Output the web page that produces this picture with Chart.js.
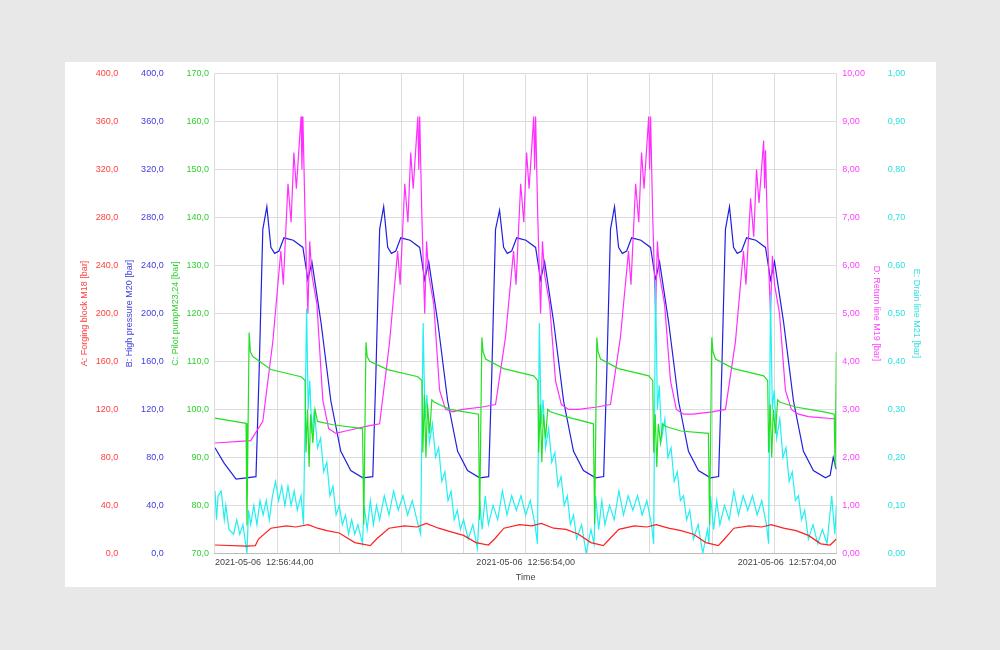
<!DOCTYPE html>
<html>
<head>
<meta charset="utf-8">
<script src="https://cdn.jsdelivr.net/npm/chart.js@4"></script>
<style>
  body { margin: 0; background: #e8e8e8; width: 1000px; height: 650px; overflow: hidden; }
  #panel { position: absolute; left: 65px; top: 62px; width: 871px; height: 525px; background: #fff; }
</style>
</head>
<body>
<div id="panel"><canvas id="trend" width="871" height="525"></canvas></div>
<script>
// time in seconds from 2021-05-06 12:56:44.00
const timeLabels = ['2021-05-06  12:56:44,00', '2021-05-06  12:56:54,00', '2021-05-06  12:57:04,00'];

const forgingBlockA = [
  [0,7],[1.0,6],[1.3,6.5],[1.4,12],[1.8,21],[2.3,23],[2.6,22],[3.0,24],[3.3,21],[3.6,19],[4.0,17],[4.5,9],[5.0,6.5],
  [5.2,12],[5.6,21],[6.1,23],[6.5,22],[6.8,25],[7.2,21],[7.6,18],[8.0,15],[8.4,9],[8.8,7],
  [9.0,12],[9.3,21],[9.8,24],[10.2,23],[10.5,25],[10.9,21],[11.3,20],[11.7,16],[12.1,9],[12.5,6.5],
  [12.7,12],[13.0,20],[13.5,23],[13.9,22],[14.2,24],[14.6,21],[15.0,19],[15.4,16],[15.8,9],[16.2,6.5],
  [16.4,12],[16.7,21],[17.2,23],[17.6,22],[17.9,24],[18.3,21],[18.7,19],[19.1,15],[19.5,8],[19.8,7],[20,12]
];

const highPressureB = [
  [0,88],[0.3,75],[0.68,62],[1.32,64],[1.42,150],[1.54,270],[1.67,289],[1.8,255],[1.92,250],[2.06,252],[2.22,263],[2.52,261],[2.83,255],[2.99,228],[3.12,243],[3.41,193],[3.73,127],[4.05,85],[4.37,69],[4.76,63],
  [5.08,64],[5.18,150],[5.30,270],[5.43,289],[5.56,255],[5.68,250],[5.82,252],[5.98,263],[6.28,261],[6.59,255],[6.75,228],[6.88,243],[7.17,193],[7.49,127],[7.81,85],[8.13,69],[8.52,63],
  [8.81,64],[8.91,150],[9.03,270],[9.16,286],[9.29,255],[9.41,250],[9.55,252],[9.71,263],[10.01,261],[10.32,255],[10.48,228],[10.61,243],[10.90,193],[11.22,127],[11.54,85],[11.86,69],[12.25,63],
  [12.51,64],[12.61,150],[12.73,270],[12.86,289],[12.99,255],[13.11,250],[13.25,252],[13.41,263],[13.71,261],[14.02,255],[14.18,228],[14.31,243],[14.60,193],[14.92,127],[15.24,85],[15.56,69],[15.95,63],
  [16.21,64],[16.31,150],[16.43,270],[16.56,289],[16.69,255],[16.81,250],[16.95,252],[17.11,263],[17.41,261],[17.72,255],[17.88,228],[18.01,243],[18.30,193],[18.62,127],[18.94,85],[19.26,69],[19.65,63],[19.8,65],[19.9,80],[20,70]
];

const pilotPumpC = [
  [0,98.2],[1.0,97.1],[1.03,75.8],[1.1,116],[1.14,112],[1.22,111],[1.8,108.3],[2.77,106.8],[2.9,106],[2.93,91],[2.98,100],[3.03,88],[3.08,99],[3.15,93],[3.22,100],[3.3,97.5],[3.8,96.8],[4.75,96],[4.79,76],
  [4.86,114],[4.9,111],[4.98,110],[5.56,108.3],[6.53,106.8],[6.66,106],[6.69,91],[6.74,103],[6.79,90],[6.84,101],[6.91,95],[6.98,102],[7.06,101.5],[7.56,100],[8.48,99],[8.52,77],
  [8.59,115],[8.63,112],[8.71,110.5],[9.29,108.5],[10.26,107],[10.39,106],[10.42,91],[10.47,101],[10.52,89],[10.57,99],[10.64,94],[10.71,100],[10.79,99.5],[11.29,98.5],[12.18,97],[12.22,76],
  [12.29,115],[12.33,112],[12.41,110.5],[12.99,108.5],[13.96,107],[14.09,106],[14.12,91],[14.17,99],[14.22,88],[14.27,97],[14.34,93],[14.41,97],[14.49,96.5],[14.99,95.5],[15.88,95],[15.92,76],
  [15.99,115],[16.03,112],[16.11,110.5],[16.69,108.5],[17.66,107],[17.79,106],[17.82,91],[17.87,101],[17.92,90],[17.97,100],[18.04,95],[18.11,102],[18.19,101.5],[18.69,100.5],[19.6,99.5],[19.93,99],[19.96,88],[20,112]
];

const returnLineD = [
  [0,2.3],[1.15,2.35],[1.54,2.75],[1.86,4.4],[2.12,6.3],[2.2,5.6],[2.35,7.7],[2.45,6.9],[2.54,8.35],[2.62,7.6],[2.77,9.1],[2.8,8.0],[2.83,9.1],[2.9,7.0],[2.99,5.0],[3.05,6.5],[3.12,5.8],[3.28,5.2],[3.47,3.2],[3.66,2.6],[3.89,2.5],[4.21,2.55],[4.9,2.65],
  [5.3,2.7],[5.62,4.4],[5.88,6.3],[5.96,5.6],[6.11,7.7],[6.21,6.9],[6.3,8.35],[6.38,7.6],[6.53,9.1],[6.56,8.0],[6.59,9.1],[6.66,7.0],[6.75,5.0],[6.81,6.5],[6.88,5.8],[7.04,5.2],[7.23,3.4],[7.42,3.0],[7.65,2.95],[7.97,3.0],[8.6,3.05],
  [9.03,3.1],[9.35,4.5],[9.61,6.3],[9.69,5.6],[9.84,7.7],[9.94,6.9],[10.03,8.35],[10.11,7.6],[10.26,9.1],[10.29,8.0],[10.32,9.1],[10.39,7.0],[10.48,5.0],[10.54,6.5],[10.61,5.8],[10.77,5.2],[10.96,3.6],[11.15,3.1],[11.38,3.0],[11.7,3.0],[12.3,3.05],
  [12.73,3.1],[13.05,4.5],[13.31,6.3],[13.39,5.6],[13.54,7.7],[13.64,6.9],[13.73,8.35],[13.81,7.6],[13.96,9.1],[13.99,8.0],[14.02,9.1],[14.09,7.0],[14.18,5.0],[14.24,6.5],[14.31,5.8],[14.47,5.2],[14.66,3.6],[14.85,3.0],[15.08,2.9],[15.4,2.9],[16.0,2.95],
  [16.43,3.0],[16.75,4.4],[17.01,6.3],[17.09,5.6],[17.24,7.4],[17.34,6.6],[17.43,8.0],[17.51,7.3],[17.66,8.6],[17.69,7.6],[17.72,8.4],[17.79,6.5],[17.88,5.0],[17.94,6.2],[18.01,5.6],[18.17,5.0],[18.36,3.4],[18.55,3.0],[18.78,2.9],[19.1,2.85],[20,2.8]
];

const drainLineE = [
  [0,0.13],[0.05,0.07],[0.1,0.12],[0.2,0.13],[0.3,0.07],[0.35,0.1],[0.45,0.05],[0.6,0.04],[0.7,0.07],[0.8,0.04],[0.9,0.06],[1.03,0.0],[1.08,0.09],[1.15,0.06],[1.25,0.1],[1.35,0.06],[1.45,0.11],[1.55,0.08],[1.65,0.11],[1.75,0.07],[1.85,0.12],[1.95,0.15],[2.05,0.11],[2.15,0.14],[2.25,0.1],[2.35,0.14],[2.45,0.1],[2.55,0.13],[2.65,0.09],[2.77,0.12],[2.85,0.06],[2.95,0.51],[3.0,0.3],[3.05,0.36],[3.12,0.25],[3.2,0.3],[3.3,0.22],[3.4,0.24],[3.5,0.17],[3.6,0.19],[3.7,0.12],[3.8,0.14],[3.9,0.08],[4.0,0.1],[4.1,0.06],[4.2,0.08],[4.3,0.04],[4.4,0.07],[4.5,0.04],[4.6,0.06],[4.75,0.02],
  [4.8,0.1],[4.9,0.05],[5.0,0.11],[5.1,0.06],[5.2,0.1],[5.3,0.07],[5.45,0.12],[5.6,0.08],[5.75,0.13],[5.9,0.09],[6.05,0.12],[6.2,0.08],[6.35,0.11],[6.5,0.07],[6.62,0.04],[6.7,0.48],[6.76,0.28],[6.82,0.33],[6.9,0.23],[7.0,0.27],[7.1,0.2],[7.2,0.22],[7.3,0.15],[7.4,0.17],[7.5,0.11],[7.6,0.13],[7.7,0.07],[7.8,0.09],[7.9,0.05],[8.0,0.07],[8.15,0.03],[8.3,0.06],[8.45,0.01],
  [8.52,0.11],[8.6,0.05],[8.7,0.12],[8.8,0.06],[8.95,0.1],[9.1,0.07],[9.25,0.13],[9.4,0.08],[9.55,0.12],[9.7,0.09],[9.85,0.12],[10.0,0.08],[10.15,0.11],[10.3,0.06],[10.38,0.02],[10.44,0.48],[10.5,0.27],[10.56,0.32],[10.64,0.22],[10.74,0.26],[10.84,0.19],[10.94,0.21],[11.04,0.14],[11.14,0.16],[11.24,0.1],[11.34,0.12],[11.44,0.06],[11.54,0.08],[11.64,0.03],[11.8,0.06],[11.95,0.0],[12.1,0.05],[12.2,0.02],
  [12.25,0.12],[12.35,0.05],[12.45,0.11],[12.55,0.06],[12.7,0.1],[12.85,0.07],[13.0,0.13],[13.15,0.08],[13.3,0.12],[13.45,0.09],[13.6,0.12],[13.75,0.08],[13.9,0.11],[14.05,0.06],[14.12,0.02],[14.18,0.57],[14.24,0.3],[14.3,0.35],[14.38,0.24],[14.48,0.28],[14.58,0.2],[14.68,0.22],[14.78,0.15],[14.88,0.17],[14.98,0.11],[15.08,0.12],[15.18,0.07],[15.28,0.09],[15.4,0.03],[15.55,0.06],[15.7,0.0],[15.85,0.05],[15.9,0.02],
  [15.95,0.12],[16.05,0.05],[16.15,0.11],[16.25,0.06],[16.4,0.1],[16.55,0.07],[16.7,0.13],[16.85,0.08],[17.0,0.12],[17.15,0.09],[17.3,0.12],[17.45,0.08],[17.6,0.11],[17.75,0.06],[17.82,0.02],[17.88,0.54],[17.94,0.3],[18.0,0.34],[18.08,0.24],[18.18,0.28],[18.28,0.2],[18.38,0.22],[18.48,0.15],[18.58,0.17],[18.68,0.11],[18.78,0.12],[18.88,0.07],[18.98,0.09],[19.1,0.03],[19.25,0.06],[19.4,0.02],[19.55,0.05],[19.7,0.02],[19.85,0.12],[19.95,0.04],[20,0.1]
];

const toXY = arr => arr.map(p => ({ x: p[0], y: p[1] }));
const comma = d => v => v.toFixed(d).replace('.', ',');
const tickFont = { family: 'Liberation Sans', size: 9 };

function yAxis(pos, weight, color, min, max, step, dec, title, grid) {
  return {
    type: 'linear', position: pos, weight: weight, min: min, max: max,
    grid: { display: grid, color: '#dcdcdc', drawTicks: false },
    border: { display: false },
    ticks: { stepSize: step, color: color, font: tickFont, callback: comma(dec), padding: 6 },
    title: { display: true, text: title, color: color, font: tickFont, padding: 0 }
  };
}

function line(label, data, color, axis) {
  return { label: label, data: toXY(data), borderColor: color, borderWidth: 1.2,
           pointRadius: 0, tension: 0, yAxisID: axis };
}

new Chart(document.getElementById('trend'), {
  type: 'line',
  data: {
    datasets: [
      line('A', forgingBlockA, '#ff2020', 'yA'),
      line('C', pilotPumpC, '#22e022', 'yC'),
      line('E', drainLineE, '#22f0f0', 'yE'),
      line('D', returnLineD, '#ff30ff', 'yD'),
      line('B', highPressureB, '#2020e0', 'yB')
    ]
  },
  options: {
    animation: false,
    responsive: false,
    layout: { padding: { top: 5, bottom: 4, left: 14, right: 14 } },
    plugins: { legend: { display: false }, tooltip: { enabled: false } },
    scales: {
      x: {
        type: 'linear', min: 0, max: 20,
        grid: { color: '#dcdcdc', drawTicks: false },
        border: { color: '#bbb' },
        ticks: {
          stepSize: 2, autoSkip: false, maxRotation: 0, align: 'inner', color: '#444', font: tickFont, padding: 4,
          callback: v => (v === 0 ? timeLabels[0] : v === 10 ? timeLabels[1] : v === 20 ? timeLabels[2] : '')
        },
        title: { display: true, text: 'Time', color: '#444', font: tickFont, padding: 0 }
      },
      yA: yAxis('left', 3, '#ff4040', 0, 400, 40, 1, 'A: Forging block M18 [bar]', true),
      yB: yAxis('left', 2, '#4040e0', 0, 400, 40, 1, 'B: High pressure M20 [bar]', false),
      yC: yAxis('left', 1, '#30d030', 70, 170, 10, 1, 'C: Pilot pumpM23,24 [bar]', false),
      yD: yAxis('right', 1, '#ff40ff', 0, 10, 1, 2, 'D: Return line M19 [bar]', false),
      yE: yAxis('right', 2, '#30e0e0', 0, 1, 0.1, 2, 'E: Drain line M21 [bar]', false)
    }
  }
});
</script>
</body>
</html>
